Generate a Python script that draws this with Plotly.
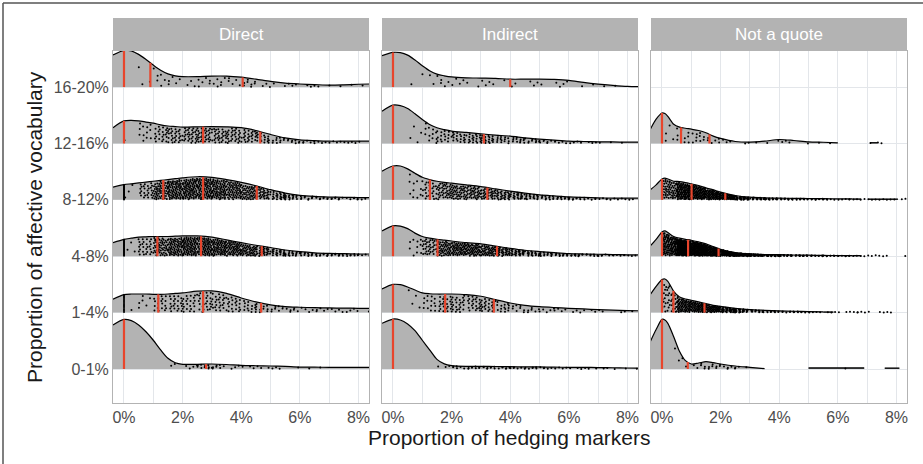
import numpy as np
import plotly.graph_objects as go

ROWS = ["0-1%", "1-4%", "4-8%", "8-12%", "12-16%", "16-20%"]
FACETS = ["Direct", "Indirect", "Not a quote"]
X_TICKS = [0, 2, 4, 6, 8]
X_TICK_TEXT = ["0%", "2%", "4%", "6%", "8%"]

# density heights (in row units)
GRID_DI = [-0.375, 0, 0.25, 0.5, 0.75, 1.0, 1.25, 1.5, 1.75, 2.0, 2.5, 3.0, 3.5,
           4.0, 4.5, 5.0, 5.5, 6.0, 6.5, 7.0, 7.5, 8.0, 8.36]
GRID_NQ = [-0.4, -0.2, 0, 0.1, 0.2, 0.4, 0.6, 0.8, 1.0, 1.25, 1.5, 1.75, 2.0, 2.5,
           3.0, 3.5, 4.0, 4.5, 5.0, 5.5, 6.0, 6.5, 7.0, 7.5, 8.0, 8.36]
N = None

DIRECT_DENS = {
    "16-20%": [0.57, 0.65, 0.64, 0.58, 0.49, 0.39, 0.30, 0.235, 0.20, 0.185, 0.185, 0.195, 0.195, 0.175, 0.14, 0.10, 0.07, 0.055, 0.045, 0.035, 0.04, 0.05, 0.055],
    "12-16%": [0.28, 0.40, 0.41, 0.40, 0.38, 0.36, 0.33, 0.31, 0.30, 0.29, 0.295, 0.30, 0.295, 0.28, 0.23, 0.16, 0.10, 0.065, 0.05, 0.04, 0.04, 0.04, 0.04],
    "8-12%": [0.225, 0.27, 0.285, 0.30, 0.315, 0.33, 0.345, 0.36, 0.375, 0.39, 0.41, 0.40, 0.36, 0.31, 0.25, 0.18, 0.12, 0.08, 0.06, 0.05, 0.045, 0.04, 0.04],
    "4-8%": [0.24, 0.30, 0.32, 0.34, 0.345, 0.35, 0.35, 0.35, 0.355, 0.36, 0.36, 0.34, 0.29, 0.24, 0.195, 0.155, 0.11, 0.08, 0.06, 0.05, 0.045, 0.04, 0.04],
    "1-4%": [0.24, 0.32, 0.33, 0.33, 0.33, 0.325, 0.325, 0.33, 0.34, 0.35, 0.38, 0.385, 0.34, 0.26, 0.19, 0.136, 0.106, 0.095, 0.088, 0.083, 0.08, 0.077, 0.077],
    "0-1%": [0.78, 0.88, 0.857, 0.78, 0.66, 0.51, 0.34, 0.19, 0.11, 0.083, 0.083, 0.089, 0.08, 0.065, 0.058, 0.053, 0.045, 0.035, 0.032, 0.03, 0.03, 0.03, 0.03],
}
INDIRECT_DENS = {
    "16-20%": [0.556, 0.615, 0.61, 0.567, 0.48, 0.38, 0.29, 0.23, 0.20, 0.18, 0.165, 0.16, 0.155, 0.14, 0.14, 0.14, 0.135, 0.12, 0.083, 0.053, 0.03, 0.012, 0.008],
    "12-16%": [0.573, 0.68, 0.67, 0.62, 0.526, 0.425, 0.337, 0.278, 0.245, 0.22, 0.195, 0.17, 0.148, 0.13, 0.10, 0.077, 0.058, 0.041, 0.035, 0.03, 0.027, 0.024, 0.024],
    "8-12%": [0.51, 0.60, 0.60, 0.55, 0.47, 0.40, 0.36, 0.33, 0.31, 0.295, 0.266, 0.236, 0.195, 0.154, 0.118, 0.089, 0.07, 0.053, 0.043, 0.035, 0.032, 0.03, 0.03],
    "4-8%": [0.45, 0.54, 0.535, 0.49, 0.41, 0.35, 0.32, 0.30, 0.285, 0.27, 0.24, 0.22, 0.18, 0.14, 0.106, 0.083, 0.064, 0.047, 0.04, 0.035, 0.03, 0.024, 0.024],
    "1-4%": [0.42, 0.50, 0.495, 0.455, 0.40, 0.35, 0.335, 0.33, 0.33, 0.33, 0.32, 0.29, 0.23, 0.17, 0.13, 0.106, 0.09, 0.077, 0.065, 0.053, 0.044, 0.035, 0.033],
    "0-1%": [0.81, 0.886, 0.87, 0.80, 0.68, 0.51, 0.34, 0.17, 0.09, 0.06, 0.047, 0.047, 0.044, 0.041, 0.038, 0.036, 0.033, 0.03, 0.028, 0.026, 0.022, 0.018, 0.016],
}
NAQ_DENS = {
    "12-16%": [0.25, 0.43, 0.54, 0.53, 0.48, 0.34, 0.29, 0.27, 0.254, 0.23, 0.19, 0.13, 0.089, 0.035, 0.024, 0.041, 0.07, 0.053, 0.03, 0.022, 0.012, N, N, N, N, N],
    "8-12%": [0.177, 0.266, 0.37, 0.384, 0.37, 0.33, 0.325, 0.307, 0.284, 0.254, 0.213, 0.177, 0.136, 0.077, 0.047, 0.035, 0.03, 0.027, 0.024, 0.021, 0.018, 0.016, N, N, N, N],
    "4-8%": [0.183, 0.30, 0.43, 0.45, 0.42, 0.35, 0.32, 0.30, 0.284, 0.254, 0.22, 0.17, 0.124, 0.065, 0.041, 0.03, 0.027, 0.022, 0.018, 0.015, 0.012, 0.01, N, N, N, N],
    "1-4%": [0.32, 0.467, 0.585, 0.597, 0.555, 0.378, 0.278, 0.242, 0.219, 0.19, 0.16, 0.13, 0.112, 0.077, 0.053, 0.041, 0.03, 0.024, 0.018, 0.012, N, N, N, N, N, N],
    "0-1%": [0.485, 0.70, 0.88, 0.87, 0.81, 0.573, 0.31, 0.148, 0.089, 0.106, 0.13, 0.112, 0.089, 0.053, 0.03, 0.006, N, N, N, N, N, N, N, N, N, N],
}
# detached low-density tail pieces: (row, start, end, height)
NAQ_TAILS = [("12-16%", 7.1, 7.35, 0.012), ("8-12%", 6.5, 6.8, 0.014), ("8-12%", 7.05, 8.05, 0.012),
             ("4-8%", 6.5, 6.8, 0.01), ("1-4%", 5.5, 5.85, 0.01), ("0-1%", 5.0, 6.9, 0.018),
             ("0-1%", 7.6, 8.1, 0.015)]

# quantile lines
DIRECT_Q = {"16-20%": [0, 0.9, 4.05], "12-16%": [0, 2.7, 4.65], "8-12%": [1.34, 2.7, 4.53],
            "4-8%": [1.14, 2.63, 4.7], "1-4%": [1.17, 2.7, 4.68], "0-1%": [0, 2.8]}
INDIRECT_Q = {"16-20%": [0, 4.0], "12-16%": [0, 3.1], "8-12%": [0, 1.26, 3.22],
              "4-8%": [0, 1.52, 3.55], "1-4%": [0, 1.78, 3.44], "0-1%": [0]}
NAQ_Q = {"12-16%": [0, 0.65, 1.62], "8-12%": [0, 1.01, 2.16], "4-8%": [0, 0.89, 1.93],
         "1-4%": [0, 0.39, 1.45], "0-1%": [0, 0.88]}

# point counts per 0.5% bin (bins start at these values), read by eye
BIN_START = [0, 0.5, 1.0, 1.5, 2.0, 2.5, 3.0, 3.5, 4.0, 4.5, 5.0, 5.5, 6.0, 6.5, 7.0, 7.5, 8.0]
DIRECT_PTS = {
    "16-20%": [0, 3, 6, 5, 3, 6, 6, 5, 8, 3, 2, 3, 3, 1, 2, 1, 1],
    "12-16%": [1, 12, 22, 28, 30, 32, 30, 28, 25, 18, 10, 8, 5, 4, 4, 4, 2],
    "8-12%": [3, 25, 60, 80, 90, 90, 80, 65, 50, 35, 22, 14, 10, 8, 7, 6, 3],
    "4-8%": [4, 25, 55, 75, 85, 85, 75, 60, 45, 32, 22, 15, 12, 10, 9, 8, 4],
    "1-4%": [1, 6, 18, 22, 22, 25, 25, 20, 14, 10, 8, 6, 4, 5, 4, 4, 2],
    "0-1%": [0, 0, 0, 2, 4, 10, 7, 3, 3, 3, 3, 1, 1, 1, 0, 0, 0],
}
INDIRECT_PTS = {
    "16-20%": [0, 1, 3, 5, 4, 2, 4, 1, 2, 3, 1, 4, 1, 1, 1, 1, 0],
    "12-16%": [0, 4, 12, 16, 18, 20, 18, 14, 12, 10, 6, 5, 4, 3, 2, 1, 0],
    "8-12%": [0, 10, 28, 40, 42, 40, 35, 28, 22, 16, 12, 10, 8, 6, 5, 4, 2],
    "4-8%": [0, 10, 35, 55, 60, 55, 45, 35, 25, 18, 14, 12, 10, 8, 6, 5, 3],
    "1-4%": [0, 4, 14, 22, 24, 24, 22, 14, 8, 6, 5, 4, 3, 3, 2, 2, 1],
    "0-1%": [0, 0, 0, 3, 6, 8, 8, 7, 6, 6, 5, 4, 3, 3, 2, 2, 1],
}
NAQ_PTS = {
    "12-16%": [5, 10, 10, 6, 3, 2, 1, 2, 3, 1, 1, 1, 0, 0, 3, 0, 0],
    "8-12%": [60, 120, 110, 80, 50, 30, 20, 15, 12, 10, 8, 6, 5, 4, 4, 4, 2],
    "4-8%": [120, 200, 170, 120, 80, 50, 35, 25, 18, 14, 10, 8, 6, 4, 4, 2, 2],
    "1-4%": [40, 80, 75, 55, 35, 22, 14, 10, 7, 6, 5, 3, 3, 5, 2, 3, 0],
    "0-1%": [1, 3, 6, 8, 5, 3, 0, 0, 0, 0, 0, 0, 1, 0, 0, 0, 0],
}
# points stacked exactly at 0%
DIRECT_ZERO = {"8-12%": 22, "4-8%": 22, "1-4%": 14}

FILL = "#b3b3b3"
RED = "#e8452c"
GRID = "#e3e6ea"
BORDER = "#b3b3b3"

facet_data = [
    (GRID_DI, DIRECT_DENS, DIRECT_Q, DIRECT_PTS, DIRECT_ZERO, []),
    (GRID_DI, INDIRECT_DENS, INDIRECT_Q, INDIRECT_PTS, {}, []),
    (GRID_NQ, NAQ_DENS, NAQ_Q, NAQ_PTS, {}, NAQ_TAILS),
]

XR = [-0.375, 8.36]
YR = [0.397, 6.64]
L_PX, R_PX, T_PX, B_PX = 113, 907, 18, 403
W_PX = R_PX - L_PX
H_PX = B_PX - T_PX
panel_px = [(113, 369), (382, 638), (651, 907)]
domains = [[(a - L_PX) / W_PX, (b - L_PX) / W_PX] for a, b in panel_px]
ytop = (B_PX - 51) / H_PX

fig = go.Figure()

A1, A2 = 0.7548776662, 0.5698402910


def valid(grid, dens):
    g = [x for x, d in zip(grid, dens) if d is not None]
    d = [d for d in dens if d is not None]
    return g, d


for fi, (grid, dens, quant, pts, zeros, tails) in enumerate(facet_data):
    xa = "x" if fi == 0 else f"x{fi + 1}"
    ya = "y" if fi == 0 else f"y{fi + 1}"
    seed = 0
    for ri in range(len(ROWS) - 1, -1, -1):
        row = ROWS[ri]
        base = ri + 1
        if row not in dens:
            continue
        g, d = valid(grid, dens[row])
        fig.add_trace(go.Scatter(x=[g[0], g[-1]], y=[base, base], mode="lines",
                                 line=dict(width=0, color="rgba(0,0,0,0)"),
                                 xaxis=xa, yaxis=ya, hoverinfo="skip"))
        fig.add_trace(go.Scatter(x=g, y=[base + v for v in d], mode="lines",
                                 line=dict(color="black", width=1.2, shape="spline", smoothing=0.8),
                                 fill="tonexty", fillcolor=FILL,
                                 xaxis=xa, yaxis=ya, hoverinfo="skip"))
        for (trow, t0, t1, th) in tails:
            if trow != row:
                continue
            fig.add_trace(go.Scatter(x=[t0, t1], y=[base, base], mode="lines",
                                     line=dict(width=0, color="rgba(0,0,0,0)"),
                                     xaxis=xa, yaxis=ya, hoverinfo="skip"))
            fig.add_trace(go.Scatter(x=[t0, t1], y=[base + th, base + th], mode="lines",
                                     line=dict(color="black", width=1.4),
                                     fill="tonexty", fillcolor=FILL,
                                     xaxis=xa, yaxis=ya, hoverinfo="skip"))

        def h_at(x):
            if x > g[-1]:
                for (trow, t0, t1, th) in tails:
                    if trow == row and t0 <= x <= t1:
                        return th
                return 0.02
            return float(np.interp(x, g, d))

        # points: counted dots laid out evenly (low-discrepancy) under the curve
        px, py = [], []
        for b0, n in zip(BIN_START, pts[row]):
            for k in range(n):
                seed += 1
                u = (0.5 + A1 * seed) % 1.0
                v = (0.5 + A2 * seed) % 1.0
                x = b0 + 0.5 * u
                h = h_at(x)
                px.append(x)
                py.append(base + (0.03 + 0.9 * v) * h)
        nz = zeros.get(row, 0)
        for k in range(nz):
            px.append(0.0)
            py.append(base + (k + 0.5) / nz * h_at(0.0))
        if px:
            fig.add_trace(go.Scatter(x=px, y=py, mode="markers",
                                     marker=dict(color="black", size=2.0, line=dict(width=0)),
                                     xaxis=xa, yaxis=ya, hoverinfo="skip"))
        qx, qy = [], []
        for q in quant.get(row, []):
            qx += [q, q, None]
            qy += [base, base + h_at(q), None]
        if qx:
            fig.add_trace(go.Scatter(x=qx, y=qy, mode="lines",
                                     line=dict(color=RED, width=2.2),
                                     xaxis=xa, yaxis=ya, hoverinfo="skip"))

layout = dict(
    width=923, height=464,
    margin=dict(l=L_PX, r=923 - R_PX, t=T_PX, b=464 - B_PX),
    plot_bgcolor="white", paper_bgcolor="white", showlegend=False,
    font=dict(family="Liberation Sans, Arial, sans-serif", color="#4d4d4d"),
)
for fi in range(3):
    sfx = "" if fi == 0 else str(fi + 1)
    layout["xaxis" + sfx] = dict(
        domain=domains[fi], range=XR, anchor="y" + sfx,
        tickvals=X_TICKS, ticktext=X_TICK_TEXT, tickfont=dict(size=16, color="#4d4d4d"),
        showgrid=True, gridcolor=GRID, gridwidth=1, zeroline=False,
        minor=dict(tickvals=[1, 3, 5, 7], showgrid=True, gridcolor=GRID, gridwidth=0.6),
        showline=True, linecolor=BORDER, linewidth=1, mirror=True, ticks="",
    )
    layout["yaxis" + sfx] = dict(
        domain=[0, ytop], range=YR, anchor="x" + sfx,
        tickvals=list(range(1, 7)), ticktext=ROWS, showticklabels=(fi == 0),
        tickfont=dict(size=16, color="#4d4d4d"),
        showgrid=True, gridcolor=GRID, gridwidth=1, zeroline=False,
        showline=True, linecolor=BORDER, linewidth=1, mirror=True, ticks="",
    )
    if fi > 0:
        layout["yaxis" + sfx]["matches"] = "y"

shapes = []
annotations = []
for fi in range(3):
    a, b = domains[fi]
    shapes.append(dict(type="rect", xref="paper", yref="paper", x0=a, x1=b, y0=ytop, y1=1.0,
                       fillcolor="#b3b3b3", line=dict(width=0), layer="below"))
    annotations.append(dict(text=FACETS[fi], xref="paper", yref="paper", x=(a + b) / 2,
                            y=(ytop + 1) / 2, showarrow=False,
                            font=dict(size=17, color="white"), xanchor="center", yanchor="middle"))
shapes.append(dict(type="line", xref="paper", yref="paper", x0=(3 - L_PX) / W_PX, x1=(3 - L_PX) / W_PX,
                   y0=(B_PX - 464) / H_PX, y1=(B_PX - 3) / H_PX, line=dict(color="#555555", width=1.5)))
shapes.append(dict(type="line", xref="paper", yref="paper", x0=(3 - L_PX) / W_PX, x1=(923 - L_PX) / W_PX,
                   y0=(B_PX - 3) / H_PX, y1=(B_PX - 3) / H_PX, line=dict(color="#555555", width=1.5)))

annotations.append(dict(text="Proportion of hedging markers", xref="paper", yref="paper",
                        x=(509 - L_PX) / W_PX, y=(B_PX - 438) / H_PX, showarrow=False,
                        font=dict(size=21, color="#1a1a1a"), xanchor="center", yanchor="middle"))
annotations.append(dict(text="Proportion of affective vocabulary", xref="paper", yref="paper",
                        x=(34 - L_PX) / W_PX, y=(B_PX - 227) / H_PX, showarrow=False, textangle=-90,
                        font=dict(size=21, color="#1a1a1a"), xanchor="center", yanchor="middle"))
layout["shapes"] = shapes
layout["annotations"] = annotations
fig.update_layout(**layout)
fig.write_html("out.html", config={"displayModeBar": False},
               post_script="document.body.style.margin='0px';document.body.style.overflow='hidden';")
